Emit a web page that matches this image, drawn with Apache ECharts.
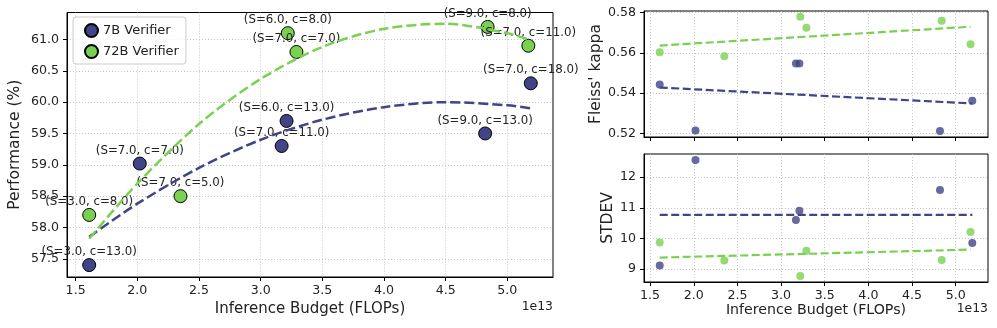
<!DOCTYPE html>
<html>
<head>
<meta charset="utf-8">
<script src="https://cdn.jsdelivr.net/npm/echarts@6/dist/echarts.min.js"></script>
<style>
  html, body { margin: 0; padding: 0; background: #fff; }
  #chart { width: 997px; height: 328px; }
</style>
</head>
<body>
<div id="chart"></div>
<script>
// left panel: performance vs budget (x in units of 1e13 FLOPs)
const budget7 = [1.61, 2.02, 3.17, 3.21, 4.82, 5.19];
const perf7 = [57.4, 59.02, 59.3, 59.7, 59.5, 60.3];
const labels7 = ["(S=3.0, c=13.0)", "(S=7.0, c=7.0)", "(S=7.0, c=11.0)", "(S=6.0, c=13.0)", "(S=9.0, c=13.0)", "(S=7.0, c=18.0)"];

const budget72 = [1.61, 2.35, 3.22, 3.29, 4.84, 5.17];
const perf72 = [58.2, 58.5, 61.1, 60.8, 61.2, 60.9];
const labels72 = ["(S=3.0, c=8.0)", "(S=7.0, c=5.0)", "(S=6.0, c=8.0)", "(S=7.0, c=7.0)", "(S=9.0, c=8.0)", "(S=7.0, c=11.0)"];

// dashed fit curves
const fitX7 = [1.61, 2.0, 2.5, 3.0, 3.5, 4.0, 4.5, 5.0, 5.19];
const fitY7 = [57.85, 58.38, 58.95, 59.40, 59.72, 59.92, 60.00, 59.95, 59.90];
const fitX72 = [1.61, 2.0, 2.5, 3.0, 3.5, 4.0, 4.5, 5.0, 5.17];
const fitY72 = [57.82, 58.70, 59.65, 60.37, 60.88, 61.17, 61.25, 61.10, 61.00];

// right panels
const kappa7 = [0.5443, 0.5215, 0.5547, 0.5547, 0.5213, 0.5362];
const kappa72 = [0.5603, 0.5583, 0.5778, 0.5724, 0.5759, 0.5642];
const stdev7 = [9.11, 12.56, 10.60, 10.90, 11.58, 9.85];
const stdev72 = [9.86, 9.27, 8.77, 9.59, 9.29, 10.21];

const kappaTrend7 = [[1.61, 0.5428], [5.19, 0.5349]];
const kappaTrend72 = [[1.61, 0.5636], [5.17, 0.5729]];
const stdevTrend7 = [[1.61, 10.77], [5.19, 10.77]];
const stdevTrend72 = [[1.61, 9.37], [5.17, 9.63]];

const xTicks = [1.5, 2.0, 2.5, 3.0, 3.5, 4.0, 4.5, 5.0];
const perfTicks = [57.5, 58.0, 58.5, 59.0, 59.5, 60.0, 60.5, 61.0];
const kappaTicks = [0.52, 0.54, 0.56, 0.58];
const stdevTicks = [9, 10, 11, 12];

const NAVY = "#414487";
const GREEN = "#7ad151";
const FONT = "DejaVu Sans";

const zip = (xs, ys) => xs.map((x, i) => [x, ys[i]]);

const chartInstance = echarts.init(document.getElementById("chart"), null, { renderer: "canvas" });

function xAxisOpt(gridIndex, showLabels, name) {
  return {
    type: "value",
    gridIndex: gridIndex,
    min: 1.43,
    max: 5.37,
    name: name,
    nameLocation: "middle",
    nameGap: 21,
    nameTextStyle: { color: "#222", fontSize: gridIndex === 0 ? 15 : 14.2, fontFamily: FONT },
    axisLine: { show: true, onZero: false, lineStyle: { color: "#000", width: 1 } },
    axisTick: { show: true, length: 4, customValues: xTicks, lineStyle: { color: "#000", width: 1 } },
    axisLabel: {
      show: showLabels,
      customValues: xTicks,
      margin: 7,
      color: "#222",
      fontSize: 12.6,
      fontFamily: FONT,
      formatter: (v) => v.toFixed(1),
    },
    splitLine: { show: true, lineStyle: { color: "#b8b8b8", type: [1, 2], width: 0.8 } },
  };
}

function yAxisOpt(gridIndex, min, max, ticks, digits, name, gap) {
  return {
    type: "value",
    gridIndex: gridIndex,
    min: min,
    max: max,
    name: name,
    nameLocation: "middle",
    nameGap: gap,
    nameTextStyle: { color: "#222", fontSize: 15.5, fontFamily: FONT },
    axisLine: { show: true, lineStyle: { color: "#000", width: 1 } },
    axisTick: { show: true, length: 4, customValues: ticks, lineStyle: { color: "#000", width: 1 } },
    axisLabel: {
      customValues: ticks,
      margin: 8,
      color: "#222",
      fontSize: 12.6,
      fontFamily: FONT,
      formatter: (v) => v.toFixed(digits),
    },
    splitLine: { show: true, lineStyle: { color: "#b8b8b8", type: [1, 2], width: 0.8 } },
  };
}

function annotated(xs, ys, labels) {
  return xs.map((x, i) => ({ value: [x, ys[i]], label: { formatter: labels[i] } }));
}

const dashed = (color, width, dash) => ({ color: color, width: width, type: dash });

const option = {
  animation: false,
  backgroundColor: "#fff",
  textStyle: { fontFamily: FONT },
  grid: [
    { left: 67, top: 12.5, width: 486, height: 264.5, show: true, borderColor: "#000", borderWidth: 1 },
    { left: 644, top: 11, width: 344, height: 126, show: true, borderColor: "#000", borderWidth: 1 },
    { left: 644, top: 154, width: 344, height: 128, show: true, borderColor: "#000", borderWidth: 1 },
  ],
  xAxis: [
    xAxisOpt(0, true, "Inference Budget (FLOPs)"),
    xAxisOpt(1, false, ""),
    xAxisOpt(2, true, "Inference Budget (FLOPs)"),
  ],
  yAxis: [
    yAxisOpt(0, 57.21, 61.43, perfTicks, 1, "Performance (%)", 44),
    yAxisOpt(1, 0.5183, 0.5807, kappaTicks, 2, "Fleiss' kappa", 33),
    yAxisOpt(2, 8.57, 12.76, stdevTicks, 0, "STDEV", 27),
  ],
  legend: {
    data: ["7B Verifier", "72B Verifier"],
    orient: "vertical",
    left: 73,
    top: 17,
    padding: [6, 7, 5, 11],
    itemGap: 6,
    itemWidth: 13,
    itemHeight: 13,
    itemTextGap: 19,
    icon: "circle",
    borderColor: "#cccccc",
    borderWidth: 1,
    borderRadius: 3,
    backgroundColor: "rgba(255,255,255,0.8)",
    textStyle: { color: "#222", fontSize: 13, fontFamily: FONT },
  },
  graphic: [
    { type: "text", right: 997 - 553, top: 301, style: { text: "1e13", fill: "#222", font: "12.4px DejaVu Sans" } },
    { type: "text", right: 997 - 988, top: 303, style: { text: "1e13", fill: "#222", font: "12.4px DejaVu Sans" } },
  ],
  series: [
    {
      name: "7B Verifier",
      type: "scatter",
      xAxisIndex: 0,
      yAxisIndex: 0,
      symbolSize: 13,
      z: 2,
      itemStyle: { color: NAVY, borderColor: "#000", borderWidth: 1, opacity: 1 },
      label: { show: true, position: "top", distance: 0, color: "#222", fontSize: 11.8, fontFamily: FONT },
      data: annotated(budget7, perf7, labels7),
    },
    {
      name: "72B Verifier",
      type: "scatter",
      xAxisIndex: 0,
      yAxisIndex: 0,
      symbolSize: 13,
      z: 2,
      itemStyle: { color: GREEN, borderColor: "#000", borderWidth: 1, opacity: 1 },
      label: { show: true, position: "top", distance: 0, color: "#222", fontSize: 11.8, fontFamily: FONT },
      data: annotated(budget72, perf72, labels72),
    },
    {
      name: "7B fit",
      type: "line",
      xAxisIndex: 0,
      yAxisIndex: 0,
      smooth: 0.3,
      showSymbol: false,
      z: 3,
      lineStyle: dashed(NAVY, 2.5, [10, 4]),
      data: zip(fitX7, fitY7),
    },
    {
      name: "72B fit",
      type: "line",
      xAxisIndex: 0,
      yAxisIndex: 0,
      smooth: 0.3,
      showSymbol: false,
      z: 3,
      lineStyle: dashed(GREEN, 2.5, [10, 4]),
      data: zip(fitX72, fitY72),
    },
    {
      name: "7B kappa",
      type: "scatter",
      xAxisIndex: 1,
      yAxisIndex: 1,
      symbolSize: 8,
      itemStyle: { color: NAVY, opacity: 0.8 },
      data: zip(budget7, kappa7),
    },
    {
      name: "72B kappa",
      type: "scatter",
      xAxisIndex: 1,
      yAxisIndex: 1,
      symbolSize: 8,
      itemStyle: { color: GREEN, opacity: 0.8 },
      data: zip(budget72, kappa72),
    },
    {
      name: "7B kappa trend",
      type: "line",
      xAxisIndex: 1,
      yAxisIndex: 1,
      showSymbol: false,
      z: 3,
      lineStyle: dashed(NAVY, 2.2, [8, 3.5]),
      data: kappaTrend7,
    },
    {
      name: "72B kappa trend",
      type: "line",
      xAxisIndex: 1,
      yAxisIndex: 1,
      showSymbol: false,
      z: 3,
      lineStyle: dashed(GREEN, 2.2, [8, 3.5]),
      data: kappaTrend72,
    },
    {
      name: "7B stdev",
      type: "scatter",
      xAxisIndex: 2,
      yAxisIndex: 2,
      symbolSize: 8,
      itemStyle: { color: NAVY, opacity: 0.8 },
      data: zip(budget7, stdev7),
    },
    {
      name: "72B stdev",
      type: "scatter",
      xAxisIndex: 2,
      yAxisIndex: 2,
      symbolSize: 8,
      itemStyle: { color: GREEN, opacity: 0.8 },
      data: zip(budget72, stdev72),
    },
    {
      name: "7B stdev trend",
      type: "line",
      xAxisIndex: 2,
      yAxisIndex: 2,
      showSymbol: false,
      z: 3,
      lineStyle: dashed(NAVY, 2.2, [8, 3.5]),
      data: stdevTrend7,
    },
    {
      name: "72B stdev trend",
      type: "line",
      xAxisIndex: 2,
      yAxisIndex: 2,
      showSymbol: false,
      z: 3,
      lineStyle: dashed(GREEN, 2.2, [8, 3.5]),
      data: stdevTrend72,
    },
  ],
};

chartInstance.setOption(option);
</script>
</body>
</html>
